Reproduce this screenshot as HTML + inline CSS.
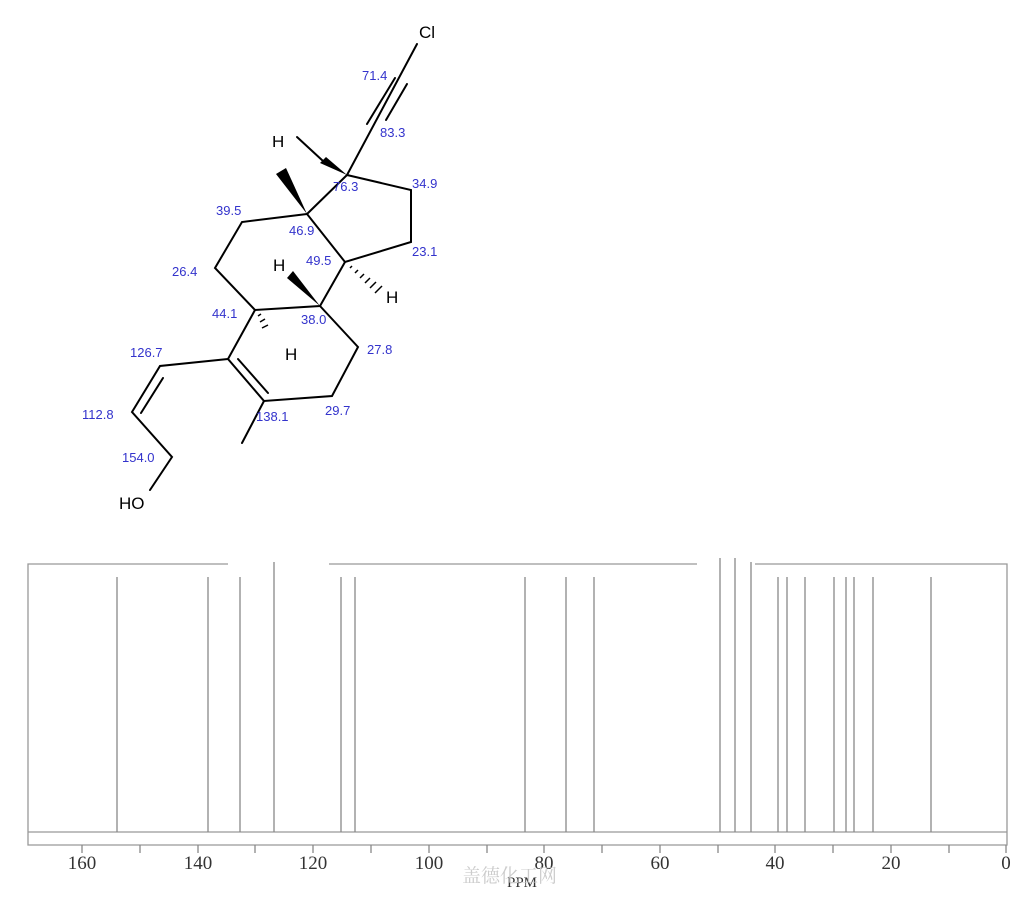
<!DOCTYPE html>
<html><head><meta charset="utf-8"><style>
html,body{margin:0;padding:0;background:#fff;width:1024px;height:900px;overflow:hidden}
svg{display:block}
.l{font-family:"Liberation Sans",sans-serif;font-size:13px;fill:#3333cc}
.a{font-family:"Liberation Sans",sans-serif;font-size:17px;fill:#000}
.ax{font-family:"Liberation Serif",serif;font-size:19px;fill:#333}
</style></head><body>
<svg width="1024" height="900" viewBox="0 0 1024 900" xmlns="http://www.w3.org/2000/svg">
<g stroke="#000" stroke-width="2" fill="none" stroke-linecap="round">
<line x1="417" y1="44" x2="347" y2="175"/>
<line x1="395" y1="78" x2="367" y2="124"/>
<line x1="407" y1="84" x2="386" y2="120"/>
<polyline points="347,175 411,190 411,242 345,262 307,214 347,175"/>
<line x1="297" y1="137" x2="323" y2="161"/>
<polyline points="307,214 242,222 215,268 255,310 320,306 345,262"/>
<polyline points="320,306 358,347 332,396 264,401 228,359 255,310"/>
<line x1="238" y1="359" x2="268" y2="393"/>
<polyline points="228,359 160,366 132,412 172,457 150,490"/>
<line x1="163" y1="378" x2="141" y2="413"/>
<line x1="264" y1="401" x2="242" y2="443"/>
</g>
<polygon points="307,214 276,174 286,168" fill="#000"/>
<polygon points="320,306 287,278 293,271" fill="#000"/>
<polygon points="347,175 320,163 326,157" fill="#000"/>
<g stroke="#000" stroke-width="1.5">
<line x1="350" y1="268" x2="352" y2="266"/><line x1="355" y1="273" x2="358" y2="270"/><line x1="360" y1="278" x2="364" y2="274"/><line x1="365" y1="283" x2="370" y2="278"/><line x1="370" y1="288" x2="376" y2="282"/><line x1="375" y1="293" x2="382" y2="286"/>
<line x1="258" y1="316" x2="261" y2="314"/><line x1="260" y1="322" x2="265" y2="319"/><line x1="262" y1="328" x2="268" y2="325"/>
</g>
<text class="a" x="419" y="38">Cl</text>
<text class="a" x="272" y="147" fill="#555" font-size="15">H</text>
<rect x="270" y="128" width="30" height="8" fill="#fff"/>
<text class="a" x="273" y="271">H</text>
<text class="a" x="386" y="303">H</text>
<text class="a" x="285" y="360">H</text>
<text class="a" x="119" y="509">HO</text>
<g class="l">
<text x="362" y="80">71.4</text><text x="380" y="137">83.3</text>
<text x="333" y="191">76.3</text><text x="412" y="188">34.9</text>
<text x="216" y="215">39.5</text><text x="289" y="235">46.9</text>
<text x="412" y="256">23.1</text><text x="306" y="265">49.5</text>
<text x="172" y="276">26.4</text><text x="212" y="318">44.1</text>
<text x="301" y="324">38.0</text><text x="367" y="354">27.8</text>
<text x="130" y="357">126.7</text><text x="82" y="419">112.8</text>
<text x="256" y="421">138.1</text><text x="325" y="415">29.7</text>
<text x="122" y="462">154.0</text>
</g>
<g stroke="#999" stroke-width="1.3" fill="none">
<polyline points="228,564 28,564 28,845 1007,845 1007,564 755,564"/>
<line x1="329" y1="564" x2="697" y2="564"/>
<line x1="28" y1="832" x2="1007" y2="832"/>
</g>
<g stroke="#888" stroke-width="1.3">
<line x1="117" y1="577" x2="117" y2="832"/>
<line x1="208" y1="577" x2="208" y2="832"/>
<line x1="240" y1="577" x2="240" y2="832"/>
<line x1="274" y1="562" x2="274" y2="832"/>
<line x1="341" y1="577" x2="341" y2="832"/>
<line x1="355" y1="577" x2="355" y2="832"/>
<line x1="525" y1="577" x2="525" y2="832"/>
<line x1="566" y1="577" x2="566" y2="832"/>
<line x1="594" y1="577" x2="594" y2="832"/>
<line x1="720" y1="558" x2="720" y2="832"/>
<line x1="735" y1="558" x2="735" y2="832"/>
<line x1="751" y1="562" x2="751" y2="832"/>
<line x1="778" y1="577" x2="778" y2="832"/>
<line x1="787" y1="577" x2="787" y2="832"/>
<line x1="805" y1="577" x2="805" y2="832"/>
<line x1="834" y1="577" x2="834" y2="832"/>
<line x1="846" y1="577" x2="846" y2="832"/>
<line x1="854" y1="577" x2="854" y2="832"/>
<line x1="873" y1="577" x2="873" y2="832"/>
<line x1="931" y1="577" x2="931" y2="832"/>
</g>
<g stroke="#888" stroke-width="1.3">
<line x1="82" y1="845" x2="82" y2="853"/><line x1="140" y1="845" x2="140" y2="853"/>
<line x1="198" y1="845" x2="198" y2="853"/><line x1="255" y1="845" x2="255" y2="853"/>
<line x1="313" y1="845" x2="313" y2="853"/><line x1="371" y1="845" x2="371" y2="853"/>
<line x1="429" y1="845" x2="429" y2="853"/><line x1="487" y1="845" x2="487" y2="853"/>
<line x1="544" y1="845" x2="544" y2="853"/><line x1="602" y1="845" x2="602" y2="853"/>
<line x1="660" y1="845" x2="660" y2="853"/><line x1="718" y1="845" x2="718" y2="853"/>
<line x1="775" y1="845" x2="775" y2="853"/><line x1="833" y1="845" x2="833" y2="853"/>
<line x1="891" y1="845" x2="891" y2="853"/><line x1="949" y1="845" x2="949" y2="853"/>
<line x1="1006" y1="845" x2="1006" y2="853"/>
</g>
<g class="ax" text-anchor="middle">
<text x="82" y="869">160</text><text x="198" y="869">140</text><text x="313" y="869">120</text>
<text x="429" y="869">100</text><text x="544" y="869">80</text><text x="660" y="869">60</text>
<text x="775" y="869">40</text><text x="891" y="869">20</text><text x="1006" y="869">0</text>
<text x="522" y="887" font-size="15">PPM</text>
</g>
<text x="462" y="882" font-family="'Noto Serif CJK SC',serif" font-size="19" fill="#ccc">盖德化工网</text>
</svg>
</body></html>
